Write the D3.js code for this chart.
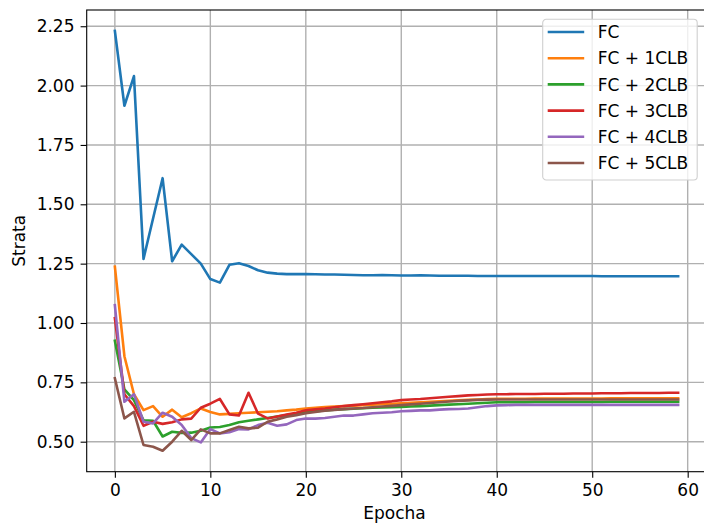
<!DOCTYPE html>
<html>
<head>
<meta charset="utf-8">
<script src="https://cdn.jsdelivr.net/npm/d3@7"></script>
<style>
  body { margin: 0; background: #fff; }
  text { font-family: "DejaVu Sans", sans-serif; fill: #000; }
</style>
</head>
<body>
<div id="chart"></div>
<script>
// Data
var epochs = d3.range(0, 60);

var seriesNames = ["FC", "FC + 1CLB", "FC + 2CLB", "FC + 3CLB", "FC + 4CLB", "FC + 5CLB"];
var seriesColors = ["#1f77b4", "#ff7f0e", "#2ca02c", "#d62728", "#9467bd", "#8c564b"];

var fc = [2.23, 1.915, 2.04, 1.27, 1.44, 1.61, 1.26, 1.33, 1.29, 1.25,
  1.185, 1.17, 1.245, 1.252, 1.24, 1.222, 1.212, 1.208, 1.206, 1.206,
  1.206, 1.205, 1.204, 1.204, 1.203, 1.202, 1.201, 1.201, 1.202, 1.201,
  1.200, 1.200, 1.201, 1.200, 1.199, 1.199, 1.199, 1.199, 1.198, 1.198,
  1.198, 1.198, 1.198, 1.198, 1.198, 1.198, 1.198, 1.198, 1.198, 1.198,
  1.198, 1.197, 1.197, 1.197, 1.197, 1.197, 1.197, 1.197, 1.197, 1.197];

var fc1 = [1.237, 0.86, 0.70, 0.633, 0.65, 0.605, 0.635, 0.603, 0.62, 0.64,
  0.625, 0.615, 0.617, 0.62, 0.622, 0.624, 0.626, 0.628, 0.632, 0.635,
  0.64, 0.643, 0.646, 0.648, 0.65, 0.652, 0.654, 0.656, 0.658, 0.66,
  0.662, 0.664, 0.666, 0.668, 0.67, 0.672, 0.674, 0.676, 0.678, 0.68,
  0.681, 0.681, 0.681, 0.681, 0.682, 0.682, 0.682, 0.682, 0.682, 0.682,
  0.682, 0.682, 0.683, 0.683, 0.683, 0.683, 0.683, 0.683, 0.683, 0.683];

var fc2 = [0.925, 0.72, 0.675, 0.59, 0.588, 0.522, 0.542, 0.537, 0.538, 0.546,
  0.56, 0.562, 0.57, 0.582, 0.588, 0.594, 0.60, 0.606, 0.612, 0.618,
  0.624, 0.628, 0.632, 0.635, 0.637, 0.639, 0.641, 0.643, 0.644, 0.645,
  0.646, 0.648, 0.65, 0.652, 0.654, 0.656, 0.658, 0.66, 0.662, 0.664,
  0.666, 0.666, 0.666, 0.666, 0.667, 0.667, 0.667, 0.667, 0.667, 0.667,
  0.667, 0.667, 0.668, 0.668, 0.668, 0.668, 0.668, 0.668, 0.668, 0.668];

var fc3 = [1.02, 0.70, 0.65, 0.567, 0.584, 0.575, 0.582, 0.594, 0.597, 0.643,
  0.66, 0.68, 0.615, 0.61, 0.706, 0.618, 0.598, 0.606, 0.614, 0.622,
  0.632, 0.636, 0.64, 0.645, 0.65, 0.654, 0.658, 0.662, 0.666, 0.67,
  0.675, 0.678, 0.68, 0.683, 0.686, 0.689, 0.692, 0.695, 0.697, 0.699,
  0.700, 0.700, 0.701, 0.701, 0.701, 0.702, 0.702, 0.702, 0.703, 0.703,
  0.703, 0.704, 0.704, 0.704, 0.705, 0.705, 0.705, 0.705, 0.706, 0.706];

var fc4 = [1.075, 0.668, 0.70, 0.584, 0.577, 0.622, 0.605, 0.57, 0.515, 0.497,
  0.553, 0.535, 0.54, 0.553, 0.552, 0.57, 0.58, 0.567, 0.573, 0.591,
  0.598, 0.597, 0.60, 0.605, 0.61, 0.61, 0.615, 0.62, 0.622, 0.624,
  0.628, 0.63, 0.632, 0.632, 0.635, 0.637, 0.638, 0.64, 0.645, 0.65,
  0.653, 0.654, 0.655, 0.655, 0.655, 0.655, 0.655, 0.655, 0.655, 0.655,
  0.655, 0.655, 0.655, 0.655, 0.655, 0.655, 0.655, 0.655, 0.655, 0.655];

var fc5 = [0.767, 0.598, 0.626, 0.486, 0.479, 0.462, 0.50, 0.546, 0.507, 0.552,
  0.535, 0.535, 0.549, 0.563, 0.556, 0.559, 0.584, 0.594, 0.605, 0.612,
  0.62, 0.625, 0.63, 0.634, 0.637, 0.64, 0.642, 0.645, 0.648, 0.651,
  0.654, 0.657, 0.66, 0.663, 0.666, 0.669, 0.672, 0.674, 0.676, 0.677,
  0.678, 0.678, 0.678, 0.678, 0.678, 0.678, 0.678, 0.678, 0.678, 0.678,
  0.678, 0.678, 0.678, 0.678, 0.678, 0.678, 0.678, 0.678, 0.678, 0.678];

var allSeries = [fc, fc1, fc2, fc3, fc4, fc5];

var xTicks = [0, 10, 20, 30, 40, 50, 60];
var yTicks = [0.50, 0.75, 1.00, 1.25, 1.50, 1.75, 2.00, 2.25];

// Layout
var svgWidth = 704;
var svgHeight = 526;

var margin = { top: 10, left: 86.7 };
var width = 619.6;
var height = 461.7;

var svg = d3.select("#chart")
  .append("svg")
  .attr("width", svgWidth)
  .attr("height", svgHeight);

var chartGroup = svg.append("g")
  .attr("transform", `translate(${margin.left}, ${margin.top})`);

// Scales with matplotlib-like 5% padding
var xPad = (d3.max(epochs) - d3.min(epochs)) * 0.05;
var xScale = d3.scaleLinear()
  .domain([d3.min(epochs) - xPad, d3.max(epochs) + xPad])
  .range([0, width]);

var yMin = d3.min(allSeries, s => d3.min(s));
var yMax = d3.max(allSeries, s => d3.max(s));
var yPad = (yMax - yMin) * 0.05;
var yScale = d3.scaleLinear()
  .domain([yMin - yPad, yMax + yPad])
  .range([height, 0]);

// Grid
chartGroup.append("g")
  .selectAll("line")
  .data(xTicks)
  .enter()
  .append("line")
  .attr("x1", d => xScale(d))
  .attr("x2", d => xScale(d))
  .attr("y1", 0)
  .attr("y2", height)
  .attr("stroke", "#b0b0b0")
  .attr("stroke-width", 1.4);

chartGroup.append("g")
  .selectAll("line")
  .data(yTicks)
  .enter()
  .append("line")
  .attr("x1", 0)
  .attr("x2", width)
  .attr("y1", d => yScale(d))
  .attr("y2", d => yScale(d))
  .attr("stroke", "#b0b0b0")
  .attr("stroke-width", 1.4);

// Lines
var line = d3.line()
  .x((d, i) => xScale(epochs[i]))
  .y(d => yScale(d));

chartGroup.append("g")
  .selectAll("path")
  .data(allSeries)
  .enter()
  .append("path")
  .attr("d", d => line(d))
  .attr("fill", "none")
  .attr("stroke", (d, i) => seriesColors[i])
  .attr("stroke-width", 2.6)
  .attr("stroke-linejoin", "round")
  .attr("stroke-linecap", "square");

// Axes
var bottomAxis = d3.axisBottom(xScale)
  .tickValues(xTicks)
  .tickFormat(d3.format("d"))
  .tickSize(6.1)
  .tickPadding(6.1);

var leftAxis = d3.axisLeft(yScale)
  .tickValues(yTicks)
  .tickFormat(d3.format(".2f"))
  .tickSize(6.1)
  .tickPadding(6.1);

var xAxisG = chartGroup.append("g")
  .attr("transform", `translate(0, ${height})`)
  .call(bottomAxis);

var yAxisG = chartGroup.append("g")
  .call(leftAxis);

[xAxisG, yAxisG].forEach(function(g) {
  g.select(".domain").remove();
  g.selectAll("line").attr("stroke", "#000").attr("stroke-width", 1.1);
  g.selectAll("text")
    .style("font-family", "DejaVu Sans")
    .style("font-size", "17px")
    .attr("fill", "#000");
});

// Frame (spines)
chartGroup.append("rect")
  .attr("x", 0)
  .attr("y", 0)
  .attr("width", width)
  .attr("height", height)
  .attr("fill", "none")
  .attr("stroke", "#000")
  .attr("stroke-width", 1.1);

// Axis labels
chartGroup.append("text")
  .attr("transform", "rotate(-90)")
  .attr("x", -height / 2)
  .attr("y", 25 - margin.left)
  .style("text-anchor", "middle")
  .style("font-size", "17px")
  .text("Strata");

chartGroup.append("text")
  .attr("x", width / 2 - 2)
  .attr("y", height + 47.5)
  .style("text-anchor", "middle")
  .style("font-size", "17px")
  .text("Epocha");

// Legend
var legend = svg.append("g")
  .attr("transform", "translate(542.7, 19.3)");

legend.append("rect")
  .attr("width", 154.5)
  .attr("height", 160.7)
  .attr("rx", 3.5)
  .attr("fill", "#fff")
  .attr("fill-opacity", 0.8)
  .attr("stroke", "#d0d0d0")
  .attr("stroke-width", 1.1);

var legendItems = legend.selectAll("g.item")
  .data(seriesNames)
  .enter()
  .append("g")
  .attr("class", "item")
  .attr("transform", (d, i) => `translate(0, ${12.7 + i * 26.2})`);

legendItems.append("line")
  .attr("x1", 5)
  .attr("x2", 41.5)
  .attr("stroke", (d, i) => seriesColors[i])
  .attr("stroke-width", 2.6);

legendItems.append("text")
  .attr("x", 55)
  .attr("y", 6.2)
  .style("font-size", "17px")
  .text(d => d);
</script>
</body>
</html>
